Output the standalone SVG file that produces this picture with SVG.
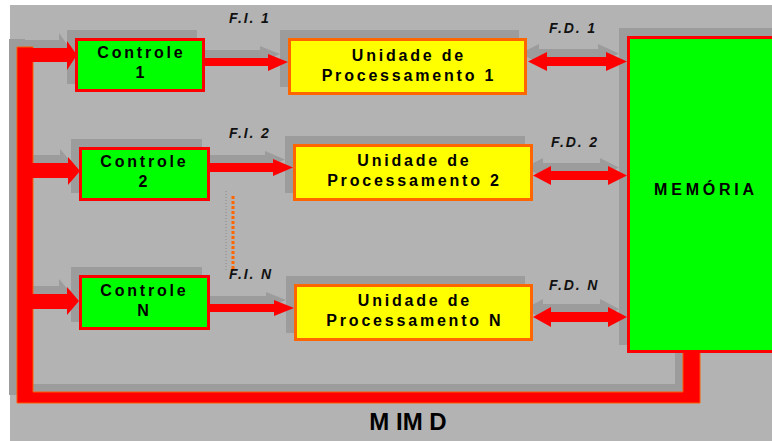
<svg xmlns="http://www.w3.org/2000/svg" width="772" height="441" viewBox="0 0 772 441">
<style>
.bg{fill:#b3b3b3}
.sh{fill:#9c9c9c}
.ctl{fill:#00ff00;stroke:#ff0000;stroke-width:3}
.pu{fill:#ffff00;stroke:#ff6600;stroke-width:3}
.mem{fill:#00ff00;stroke:#ff0000;stroke-width:3}
.red{fill:#ff0000}
.bus{fill:#ff0000;stroke:#ff5a00;stroke-width:1}
.t{font-family:"Liberation Sans",Arial,sans-serif;font-weight:bold;font-size:16px;letter-spacing:2.8px;text-anchor:middle;fill:#000}
.lbl{font-family:"Liberation Sans",Arial,sans-serif;font-weight:bold;font-style:italic;font-size:14px;letter-spacing:1.9px;fill:#111}
.title{font-family:"Liberation Sans",Arial,sans-serif;font-weight:bold;font-size:24px;text-anchor:middle;fill:#000}
</style>
<rect width="772" height="441" fill="#ffffff"/>
<rect class="bg" x="10" y="5" width="762" height="436"/>

<g id="shadows" class="sh" transform="translate(-8,-8)">
  <polygon points="683,352 700,352 700,403 17,403 17,47 33,47 33,392 683,392"/>
  <polygon points="30,48 67,48 67,41 77,55 67,70 67,62 30,62"/>
  <polygon points="30,163 68,163 68,157 80,171 68,185 68,178 30,178"/>
  <polygon points="30,294 67,294 67,287 79,301 67,315 67,309 30,309"/>
  <polygon points="205,58 268,58 268,54 288,62 268,71 268,66 205,66"/>
  <polygon points="210,163 273,163 273,159 293,167.5 273,176 273,172 210,172"/>
  <polygon points="210,304 274,304 274,300 294,308 274,316 274,312 210,312"/>
  <polygon points="528,61.5 547,52 547,57 606,57 606,52 627,61.5 606,71 606,66 547,66 547,71"/>
  <polygon points="533,175.5 551,166 551,171 608,171 608,166 627,175.5 608,185 608,180 551,180 551,185"/>
  <polygon points="533,317 551,307 551,312 608,312 608,307 627,317 608,327 608,322 551,322 551,327"/>
  <rect x="75" y="38" width="130" height="54"/>
  <rect x="79" y="147" width="131" height="54"/>
  <rect x="79" y="275" width="131" height="55"/>
  <rect x="288" y="38" width="239" height="57"/>
  <rect x="293" y="144" width="240" height="57"/>
  <rect x="294" y="284" width="239" height="57"/>
  <rect x="627" y="36" width="163" height="317"/>
</g>

<g id="connectors">
  <polygon class="bus" points="683,352 700,352 700,403 17,403 17,47 33,47 33,392 683,392"/>
  <polygon class="red" points="30,48 67,48 67,41 77,55 67,70 67,62 30,62"/>
  <polygon class="red" points="30,163 68,163 68,157 80,171 68,185 68,178 30,178"/>
  <polygon class="red" points="30,294 67,294 67,287 79,301 67,315 67,309 30,309"/>
  <polygon class="red" points="205,58 268,58 268,54 288,62 268,71 268,66 205,66"/>
  <polygon class="red" points="210,163 273,163 273,159 293,167.5 273,176 273,172 210,172"/>
  <polygon class="red" points="210,304 274,304 274,300 294,308 274,316 274,312 210,312"/>
  <polygon class="red" points="528,61.5 547,52 547,57 606,57 606,52 627,61.5 606,71 606,66 547,66 547,71"/>
  <polygon class="red" points="533,175.5 551,166 551,171 608,171 608,166 627,175.5 608,185 608,180 551,180 551,185"/>
  <polygon class="red" points="533,317 551,307 551,312 608,312 608,307 627,317 608,327 608,322 551,322 551,327"/>
  <line x1="226" y1="191" x2="226" y2="271" stroke="#888888" stroke-width="1" stroke-dasharray="1 2"/>
  <line x1="233" y1="196" x2="233" y2="270" stroke="#ff6600" stroke-width="3" stroke-dasharray="3 2"/>
  <text class="lbl" x="229" y="23">F.I. 1</text>
  <text class="lbl" x="229" y="138">F.I. 2</text>
  <text class="lbl" x="229" y="279">F.I. N</text>
  <text class="lbl" x="549" y="33">F.D. 1</text>
  <text class="lbl" x="551" y="147">F.D. 2</text>
  <text class="lbl" x="549" y="290">F.D. N</text>
</g>

<g id="controle1">
  <rect class="ctl" x="76.5" y="39.5" width="127" height="51"/>
  <text class="t" x="141.4" y="58">Controle</text>
  <text class="t" x="141.4" y="78">1</text>
</g>
<g id="controle2">
  <rect class="ctl" x="80.5" y="148.5" width="128" height="51"/>
  <text class="t" x="144.4" y="167">Controle</text>
  <text class="t" x="144.4" y="187">2</text>
</g>
<g id="controleN">
  <rect class="ctl" x="80.5" y="276.5" width="128" height="52"/>
  <text class="t" x="144.4" y="296">Controle</text>
  <text class="t" x="144.4" y="316">N</text>
</g>
<g id="unidade1">
  <rect class="pu" x="289.5" y="39.5" width="236" height="54"/>
  <text class="t" x="408.9" y="61">Unidade de</text>
  <text class="t" x="408.9" y="81">Processamento 1</text>
</g>
<g id="unidade2">
  <rect class="pu" x="294.5" y="145.5" width="237" height="54"/>
  <text class="t" x="414.4" y="166">Unidade de</text>
  <text class="t" x="414.4" y="186">Processamento 2</text>
</g>
<g id="unidadeN">
  <rect class="pu" x="295.5" y="285.5" width="236" height="54"/>
  <text class="t" x="414.9" y="306">Unidade de</text>
  <text class="t" x="414.9" y="326">Processamento N</text>
</g>
<g id="memoria">
  <rect class="mem" x="628.5" y="37.5" width="160" height="314"/>
  <text class="t" x="706" y="195" style="letter-spacing:3.8px">MEMÓRIA</text>
</g>
<text class="title" x="408" y="430">M IM D</text>
</svg>
